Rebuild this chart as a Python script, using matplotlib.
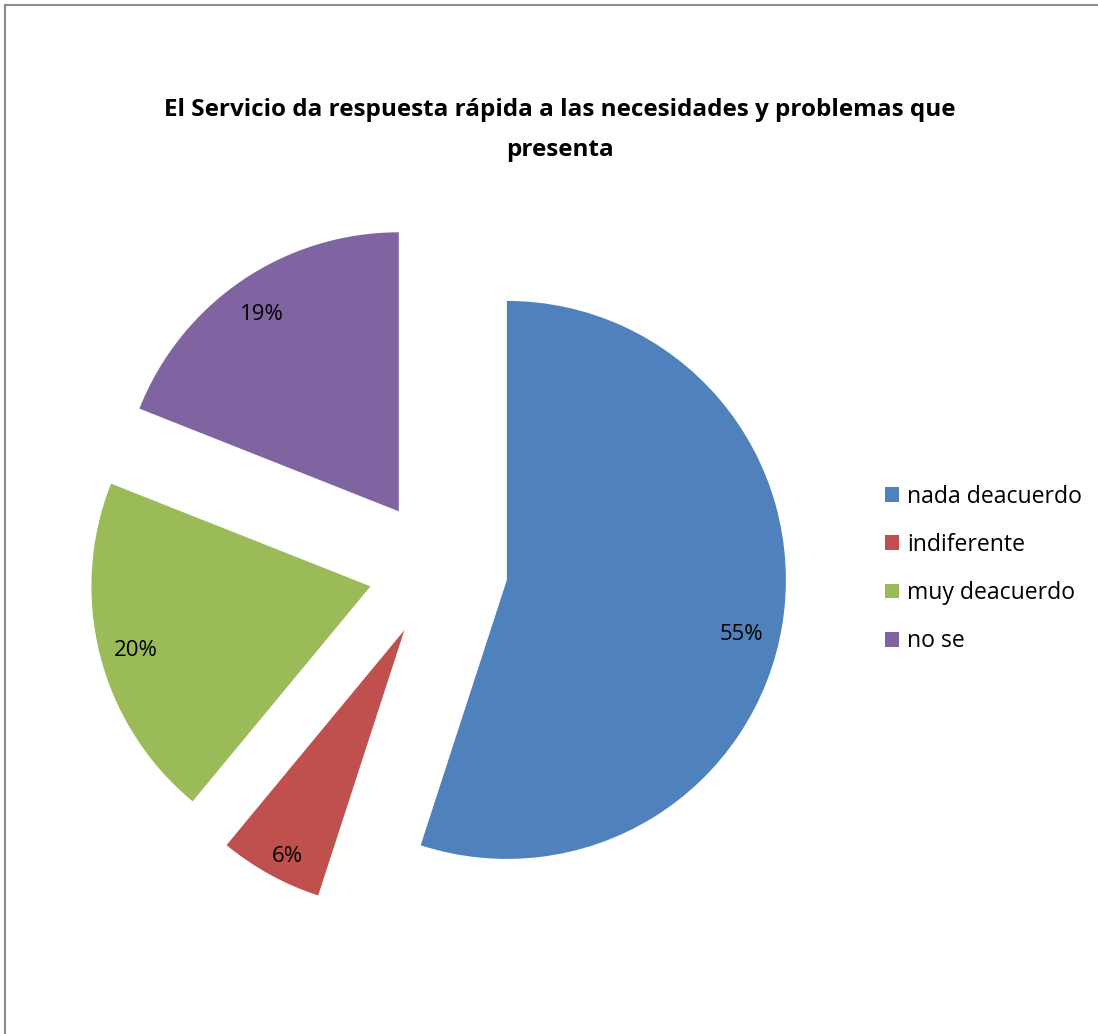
import matplotlib.pyplot as plt
from matplotlib.patches import Rectangle

# datos
categorias = ['nada deacuerdo', 'indiferente', 'muy deacuerdo', 'no se']
porcentajes = [55, 6, 20, 19]
colores = ['#4F81BD', '#C0504D', '#9BBB59', '#8064A2']
titulo = 'El Servicio da respuesta rápida a las necesidades y problemas que\npresenta'

W, H = 1098, 1034
fig = plt.figure(figsize=(W / 100, H / 100), dpi=100)
plt.rcParams['font.family'] = ['Open Sans', 'DejaVu Sans']

# marco gris del gráfico
fig.patches.append(Rectangle((5 / W, -0.1), 1.2, 1 - 5 / H + 0.1, transform=fig.transFigure,
                             fill=False, edgecolor='#8c8c8c', linewidth=1.5))

ax = fig.add_axes([0, 0, 1, 1])
r = 279.0
cx, cy = 438.0, 569.0
wedges, texts, autotexts = ax.pie(porcentajes, colors=colores, startangle=90, counterclock=False,
                                  explode=[0.25] * 4, autopct='%1.0f%%', pctdistance=0.87,
                                  wedgeprops=dict(linewidth=0),
                                  textprops=dict(fontsize=16, color='black'))
# pequeños ajustes de las etiquetas para parecerse al original
ajustes = [(-0.02, -0.06), (0.0, -0.05), (0.0, -0.015), (0.0, -0.015)]
for t, (dx, dy) in zip(autotexts, ajustes):
    x, y = t.get_position()
    t.set_position((x + dx, y + dy))

ax.set_aspect('auto')
ax.set_xlim(-cx / r, (W - cx) / r)
ax.set_ylim(-(H - cy) / r, cy / r)
ax.axis('off')

fig.text(560 / W, 1 - 130 / H, titulo, ha='center', va='center', fontsize=17.5,
         fontweight='bold', linespacing=1.85)

leg = fig.legend(wedges, categorias, loc='center left', bbox_to_anchor=(873 / W, 1 - 569 / H),
                 frameon=False, fontsize=16.6, handlelength=0.62, handleheight=0.62,
                 handletextpad=0.35, labelspacing=1.05, borderpad=0)

plt.savefig('out.png', dpi=100)
